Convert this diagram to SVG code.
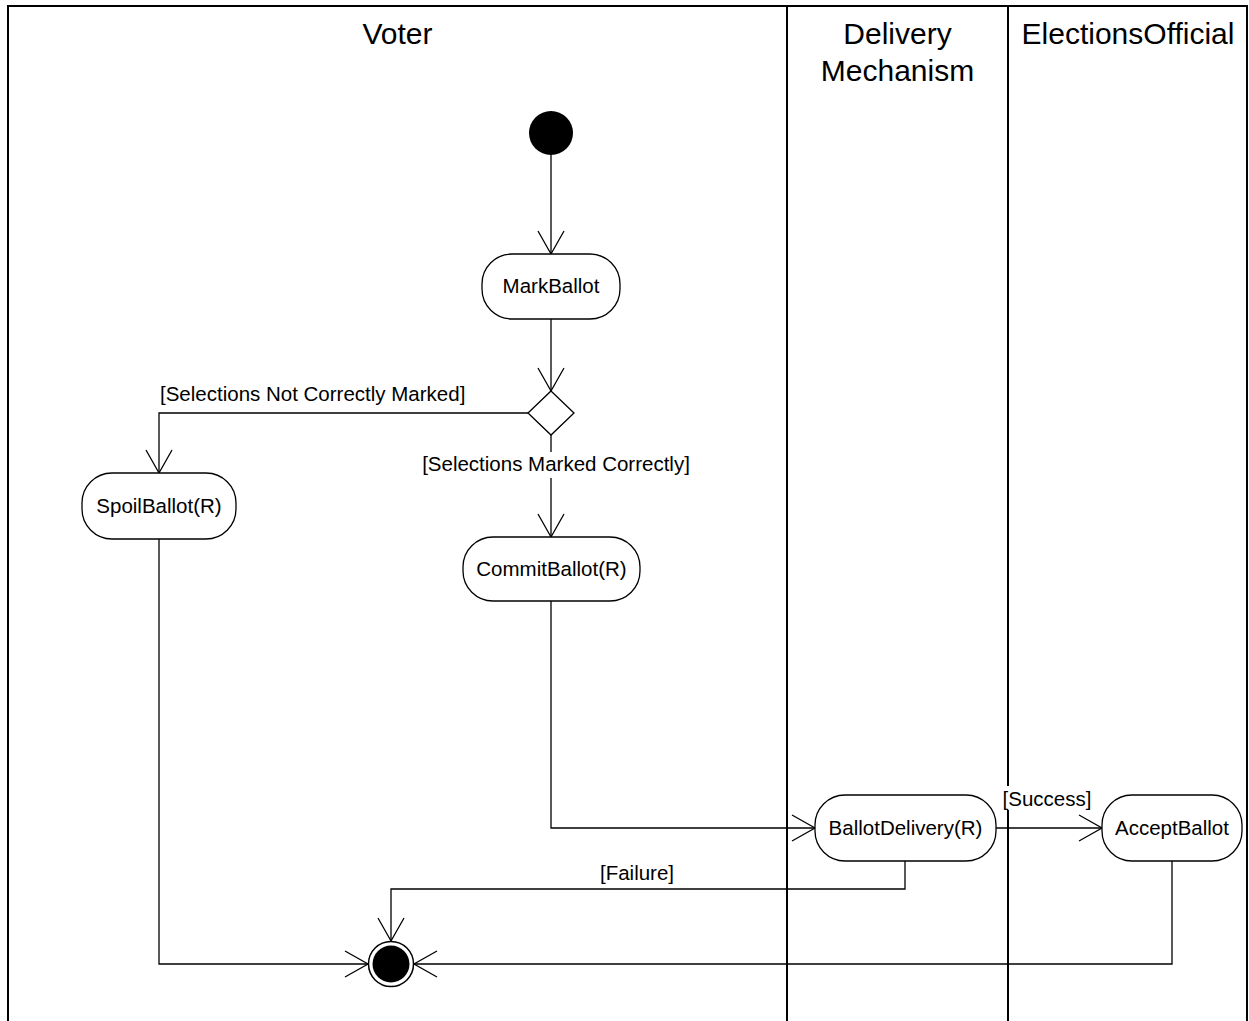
<svg xmlns="http://www.w3.org/2000/svg" width="1249" height="1021" viewBox="0 0 1249 1021">
<style>
.lane{fill:none;stroke:#000;stroke-width:2}
.hdr{font-family:"Liberation Sans",Arial,sans-serif;font-size:30px;fill:#000;text-anchor:middle}
.act{fill:#fff;stroke:#000;stroke-width:1.3}
.lbl{font-family:"Liberation Sans",Arial,sans-serif;font-size:20.5px;fill:#000;text-anchor:middle}
.edge{fill:none;stroke:#000;stroke-width:1.3}
.glbl{font-family:"Liberation Sans",Arial,sans-serif;font-size:20.5px;fill:#000}
</style>
<defs>
<marker id="arr" viewBox="-25 -15 27 30" refX="0" refY="0" markerWidth="27" markerHeight="30" markerUnits="userSpaceOnUse" orient="auto">
<path d="M-23,-13 L0,0 L-23,13" fill="none" stroke="#000" stroke-width="1.3"/>
</marker>
</defs>
<rect width="1249" height="1021" fill="#fff"/>
<g id="lanes">
<path class="lane" d="M8,1021 V6 H1247 V1021"/>
<line class="lane" x1="787" y1="6" x2="787" y2="1021"/>
<line class="lane" x1="1008" y1="6" x2="1008" y2="1021"/>
<text class="hdr" x="397.5" y="44">Voter</text>
<text class="hdr" x="897.5" y="44">Delivery</text>
<text class="hdr" x="897.5" y="81">Mechanism</text>
<text class="hdr" x="1128" y="44">ElectionsOfficial</text>
</g>
<g id="connectors">
<line class="edge" x1="551" y1="155" x2="551" y2="254" marker-end="url(#arr)"/>
<line class="edge" x1="551" y1="319" x2="551" y2="391" marker-end="url(#arr)"/>
<polyline class="edge" points="528,413 159,413 159,473" marker-end="url(#arr)"/>
<text class="glbl" x="160" y="401">[Selections Not Correctly Marked]</text>
<line class="edge" x1="551" y1="435" x2="551" y2="537" marker-end="url(#arr)"/>
<rect x="419" y="452" width="274" height="26" fill="#fff"/>
<text class="lbl" x="556" y="471">[Selections Marked Correctly]</text>
<polyline class="edge" points="551,601 551,828 815,828" marker-end="url(#arr)"/>
<line class="edge" x1="996" y1="828" x2="1102" y2="828" marker-end="url(#arr)"/>
<rect x="1003" y="786" width="88" height="24" fill="#fff"/>
<text class="lbl" x="1047" y="806">[Success]</text>
<polyline class="edge" points="905,861 905,889 391,889 391,941" marker-end="url(#arr)"/>
<text class="lbl" x="637" y="880">[Failure]</text>
<polyline class="edge" points="159,539 159,964 368,964" marker-end="url(#arr)"/>
<polyline class="edge" points="1172,861 1172,964 414,964" marker-end="url(#arr)"/>
</g>
<g id="start">
<circle cx="551" cy="133" r="22" fill="#000"/>
</g>
<g id="markBallot">
<rect class="act" x="482" y="254" width="138" height="65" rx="30" ry="30"/>
<text class="lbl" x="551" y="293">MarkBallot</text>
</g>
<g id="decision">
<polygon class="act" points="551,391 574,413 551,435 528,413"/>
</g>
<g id="spoilBallot">
<rect class="act" x="82" y="473" width="154" height="66" rx="30" ry="30"/>
<text class="lbl" x="159" y="513">SpoilBallot(R)</text>
</g>
<g id="commitBallot">
<rect class="act" x="463" y="537" width="177" height="64" rx="30" ry="30"/>
<text class="lbl" x="551.5" y="576">CommitBallot(R)</text>
</g>
<g id="ballotDelivery">
<rect class="act" x="815" y="795" width="181" height="66" rx="30" ry="30"/>
<text class="lbl" x="905.5" y="835">BallotDelivery(R)</text>
</g>
<g id="acceptBallot">
<rect class="act" x="1102" y="795" width="140" height="66" rx="30" ry="30"/>
<text class="lbl" x="1172" y="835">AcceptBallot</text>
</g>
<g id="end">
<circle cx="391" cy="964" r="22.5" fill="#fff" stroke="#000" stroke-width="1.5"/>
<circle cx="391" cy="964" r="18.5" fill="#000"/>
</g>
</svg>
